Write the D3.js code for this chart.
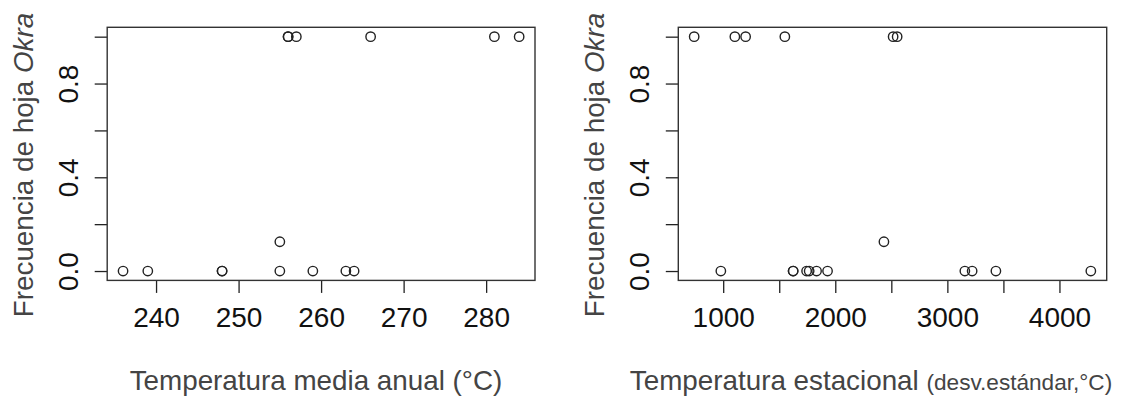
<!DOCTYPE html>
<html>
<head>
<meta charset="utf-8">
<script src="https://cdn.jsdelivr.net/npm/d3@7"></script>
<style>
  body { margin: 0; background: #fff; }
  text { font-family: "Liberation Sans", Arial, sans-serif; }
</style>
</head>
<body>
<script>
// panel 1: temperatura media anual
var tempMedia = [236, 239, 248, 248, 255, 259, 263, 264, 255, 256, 256, 257, 266, 281, 284];
var frecMedia = [0, 0, 0, 0, 0, 0, 0, 0, 0.125, 1, 1, 1, 1, 1, 1];

// panel 2: temperatura estacional
var tempEstac = [979, 1624, 1624, 1744, 1767, 1833, 1931, 3156, 3221, 3433, 4280, 2434, 741, 1104, 1200, 1550, 2516, 2552];
var frecEstac = [0, 0, 0, 0, 0, 0, 0, 0, 0, 0, 0, 0.125, 1, 1, 1, 1, 1, 1];

var xTicksMedia = [240, 250, 260, 270, 280];
var xTicksEstac = [1000, 1500, 2000, 2500, 3000, 3500, 4000];
var xLabelsEstac = [1000, 2000, 3000, 4000];
var yTicks = [0, 0.2, 0.4, 0.6, 0.8, 1.0];
var yLabels = [0, 0.4, 0.8];

var W = 1141, H = 396;
var plotTop = 27.3, plotBottom = 280.4;

var svg = d3.select("body").append("svg")
    .attr("width", W)
    .attr("height", H);

svg.append("rect").attr("width", W).attr("height", H).attr("fill", "#fff");

// R style range: extent padded by 4%
function rDomain(v) {
  var e = d3.extent(v), p = (e[1] - e[0]) * 0.04;
  return [e[0] - p, e[1] + p];
}

function drawPanel(opt) {
  var x = d3.scaleLinear().domain(rDomain(opt.xs)).range([opt.left, opt.right]);
  var y = d3.scaleLinear().domain(rDomain([0, 1])).range([plotBottom, plotTop]);

  var g = svg.append("g");

  // x axis
  var xa = g.append("g")
      .attr("transform", "translate(0," + plotBottom + ")")
      .call(d3.axisBottom(x)
        .tickValues(opt.xTicks)
        .tickSize(12.5)
        .tickFormat(function(d) { return opt.xLabels.indexOf(d) >= 0 ? d : ""; }));
  xa.select(".domain").remove();
  xa.selectAll("line").attr("stroke", "#222").attr("stroke-width", 1.3);
  xa.selectAll("text")
      .attr("y", 46.5).attr("dy", 0)
      .attr("fill", "#111")
      .style("font-size", "28px");

  // y axis
  var ya = g.append("g")
      .attr("transform", "translate(" + opt.left + ",0)")
      .call(d3.axisLeft(y)
        .tickValues(yTicks)
        .tickSize(12.5)
        .tickFormat(function(d) { return yLabels.indexOf(d) >= 0 ? d3.format(".1f")(d) : ""; }));
  ya.select(".domain").remove();
  ya.selectAll("line").attr("stroke", "#222").attr("stroke-width", 1.3);
  ya.selectAll("text")
      .attr("x", 0).attr("y", -29.5).attr("dy", 0)
      .attr("text-anchor", "middle")
      .attr("transform", "rotate(-90)")
      .attr("fill", "#111")
      .style("font-size", "28px");

  // box
  g.append("rect")
      .attr("x", opt.left).attr("y", plotTop)
      .attr("width", opt.right - opt.left)
      .attr("height", plotBottom - plotTop)
      .attr("fill", "none")
      .attr("stroke", "#333")
      .attr("stroke-width", 1.4);

  // points
  g.selectAll("circle")
      .data(opt.xs.map(function(d, i) { return [d, opt.ys[i]]; }))
      .enter()
      .append("circle")
      .attr("cx", function(d) { return x(d[0]); })
      .attr("cy", function(d) { return y(d[1]); })
      .attr("r", 4.7)
      .attr("fill", "none")
      .attr("stroke", "#222")
      .attr("stroke-width", 1.4);

  // y title
  var yt = g.append("text")
      .attr("transform", "translate(" + (opt.left - 74) + "," + 165 + ")rotate(-90)")
      .attr("text-anchor", "middle")
      .attr("fill", "#444")
      .style("font-size", "27.8px");
  yt.append("tspan").text("Frecuencia de hoja ");
  yt.append("tspan").style("font-style", "italic").text("Okra");

  // x title
  var xt = g.append("text")
      .attr("x", opt.titleX).attr("y", 390)
      .attr("text-anchor", "middle")
      .attr("fill", "#444")
      .style("font-size", "27.8px");
  xt.append("tspan").text(opt.title);
  if (opt.subtitle) {
    xt.append("tspan").style("font-size", "22.6px").text(opt.subtitle);
  }
}

drawPanel({
  xs: tempMedia, ys: frecMedia,
  left: 107.2, right: 535,
  xTicks: xTicksMedia, xLabels: xTicksMedia,
  title: "Temperatura media anual (°C)", titleX: 316
});

drawPanel({
  xs: tempEstac, ys: frecEstac,
  left: 678.3, right: 1106.7,
  xTicks: xTicksEstac, xLabels: xLabelsEstac,
  title: "Temperatura estacional ", subtitle: "(desv.estándar,°C)", titleX: 871
});
</script>
</body>
</html>
